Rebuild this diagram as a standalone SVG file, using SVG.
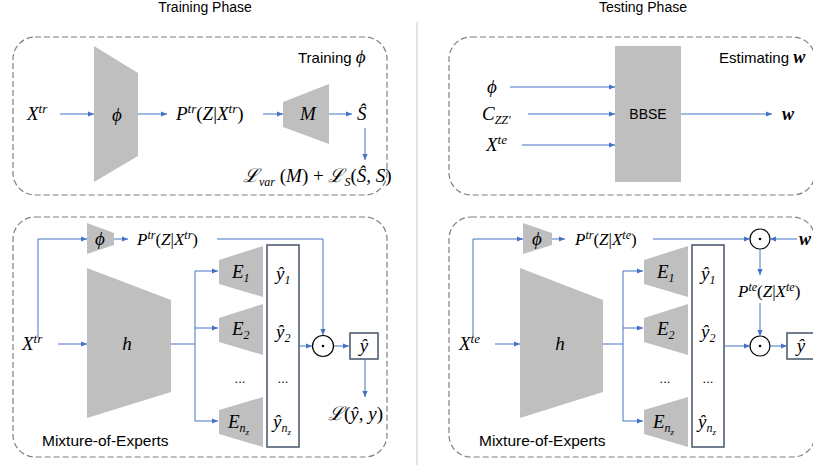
<svg xmlns="http://www.w3.org/2000/svg" width="813" height="465" viewBox="0 0 813 465">
<defs>
<marker id="ah" viewBox="0 0 6 6" markerWidth="6" markerHeight="6" refX="6" refY="3" orient="auto" markerUnits="userSpaceOnUse">
<path d="M0,0.4 L6,3 L0,5.6 z" fill="#4472C4"/>
</marker>
</defs>
<style>
.panel{fill:none;stroke:#808080;stroke-width:1.2;stroke-dasharray:6,3}
.g{fill:#BFBFBF;stroke:none}
.a{fill:none;stroke:#4472C4;stroke-width:1;marker-end:url(#ah)}
.l{fill:none;stroke:#4472C4;stroke-width:1}
.bx{fill:#fff;stroke:#44546A;stroke-width:1.5}
.op{fill:#fff;stroke:#000;stroke-width:1.2}
.t{font-family:"Liberation Sans",Arial,sans-serif;fill:#000}
.m{font-family:"Liberation Serif","DejaVu Serif",serif;font-style:italic;font-size:19px;fill:#000}
.m2{font-family:"Liberation Serif","DejaVu Serif",serif;font-style:italic;font-size:17px;fill:#000}
.u{font-style:normal}
.sp{font-size:13px}
.sb{font-size:12px}
.ss{font-size:9px}
.c{text-anchor:middle}
.bw{font-family:"Liberation Serif","DejaVu Serif",serif;font-style:italic;font-weight:bold;font-size:18px;fill:#000}
</style>

<text class="t c" x="205" y="12" font-size="14">Training Phase</text>
<text class="t c" x="643" y="12" font-size="14">Testing Phase</text>
<line x1="417" y1="22" x2="417" y2="465" stroke="#C8C8C8" stroke-width="1"/>

<!-- Top-left: Training phi -->
<g id="panel-train-phi">
<rect class="panel" x="13" y="37" width="374" height="158" rx="22"/>
<text class="t" x="298" y="63" font-size="15">Training <tspan class="m" font-size="18">ϕ</tspan></text>
</g>
<g id="tl-xtr"><text class="m" x="27" y="120">X<tspan class="sp" dy="-7">tr</tspan></text></g>
<g id="tl-phi"><polygon class="g" points="94,46 138,73 138,156 94,182"/><text class="m c" x="117" y="121">ϕ</text></g>
<g id="tl-p"><text class="m" x="176" y="120">P<tspan class="sp" dy="-7">tr</tspan><tspan class="u" dy="7">(</tspan>Z<tspan class="u">|</tspan>X<tspan class="sp" dy="-7">tr</tspan><tspan class="u" dy="7">)</tspan></text></g>
<g id="tl-m"><polygon class="g" points="283,102 329,84 329,144 283,127"/><text class="m c" x="308" y="120">M</text></g>
<g id="tl-s"><text class="m" x="357" y="120">Ŝ</text></g>
<g id="tl-loss"><text class="m" x="243" y="182">ℒ<tspan class="sb" dy="4">var</tspan><tspan dy="-4"> </tspan><tspan class="u">(</tspan>M<tspan class="u">) + </tspan>ℒ<tspan class="sb" dy="4">S</tspan><tspan class="u" dy="-4">(</tspan>Ŝ<tspan class="u">, </tspan>S<tspan class="u">)</tspan></text></g>

<!-- Top-right: Estimating w -->
<g id="panel-est-w">
<rect class="panel" x="449" y="37" width="366" height="158" rx="22"/>
<text class="t" x="719" y="63" font-size="15">Estimating <tspan class="bw">w</tspan></text>
</g>
<g id="tr-bbse"><rect class="g" x="615" y="46" width="66" height="136"/><text class="t c" x="648" y="119" font-size="14">BBSE</text></g>
<g id="tr-phi"><text class="m" x="487" y="93">ϕ</text></g>
<g id="tr-czz"><text class="m" x="482" y="120">C<tspan class="sb" dy="4">ZZ′</tspan></text></g>
<g id="tr-xte"><text class="m" x="486" y="151">X<tspan class="sp" dy="-7">te</tspan></text></g>
<g id="tr-w"><text class="bw" x="782" y="120">w</text></g>

<!-- Bottom-left: Mixture-of-Experts (training) -->
<g id="panel-moe-train">
<rect class="panel" x="13" y="217" width="374" height="240" rx="22"/>
<text class="t" x="42" y="446" font-size="15.5">Mixture-of-Experts</text>
</g>
<g id="bl-xtr"><text class="m" x="22" y="350">X<tspan class="sp" dy="-7">tr</tspan></text></g>
<g id="bl-phi"><polygon class="g" points="87,223 114,233 114,245 87,254"/><text class="m c" x="100" y="245">ϕ</text></g>
<g id="bl-p"><text class="m2" x="137" y="245">P<tspan class="sb" dy="-6">tr</tspan><tspan class="u" dy="6">(</tspan>Z<tspan class="u">|</tspan>X<tspan class="sb" dy="-6">tr</tspan><tspan class="u" dy="6">)</tspan></text></g>
<g id="bl-h"><polygon class="g" points="87,268 171,300 171,392 87,418"/><text class="m c" x="127" y="350">h</text></g>
<g id="bl-e1"><polygon class="g" points="219,260 263,246 263,297 219,284"/><text class="m" x="232" y="278">E<tspan class="sb" dy="4">1</tspan></text></g>
<g id="bl-e2"><polygon class="g" points="219,318 263,304 263,355 219,342"/><text class="m" x="232" y="335">E<tspan class="sb" dy="4">2</tspan></text></g>
<g id="bl-edots"><text class="t c" x="240" y="383" font-size="13">...</text></g>
<g id="bl-enz"><polygon class="g" points="219,410 263,397 263,447 219,434"/><text class="m" x="228" y="428">E<tspan class="sb" dy="4">n</tspan><tspan class="ss" dy="3">z</tspan></text></g>
<g id="bl-y"><rect class="bx" x="267" y="245" width="32" height="202"/>
<text class="m" x="276" y="280">ŷ<tspan class="sb" dy="4">1</tspan></text>
<text class="m" x="276" y="338">ŷ<tspan class="sb" dy="4">2</tspan></text>
<text class="t c" x="283" y="383" font-size="13">...</text>
<text class="m" x="273" y="428">ŷ<tspan class="sb" dy="4">n</tspan><tspan class="ss" dy="3">z</tspan></text></g>
<g id="bl-op"><circle class="op" cx="323" cy="346" r="10.5"/><circle cx="323" cy="346" r="1.3" fill="#000"/></g>
<g id="bl-yhat"><rect class="bx" x="350" y="333" width="28" height="26"/><text class="m c" x="364" y="352">ŷ</text></g>
<g id="bl-loss"><text class="m" x="328" y="420">ℒ<tspan class="u">(</tspan>ŷ<tspan class="u">, </tspan>y<tspan class="u">)</tspan></text></g>

<!-- Bottom-right: Mixture-of-Experts (testing) -->
<g id="panel-moe-test">
<rect class="panel" x="449" y="217" width="366" height="240" rx="22"/>
<text class="t" x="479" y="446" font-size="15.5">Mixture-of-Experts</text>
</g>
<g id="br-xte"><text class="m" x="459" y="350">X<tspan class="sp" dy="-7">te</tspan></text></g>
<g id="br-phi"><polygon class="g" points="523,223 552,233 552,245 523,254"/><text class="m c" x="537" y="245">ϕ</text></g>
<g id="br-p"><text class="m2" x="575" y="245">P<tspan class="sb" dy="-6">tr</tspan><tspan class="u" dy="6">(</tspan>Z<tspan class="u">|</tspan>X<tspan class="sb" dy="-6">te</tspan><tspan class="u" dy="6">)</tspan></text></g>
<g id="br-h"><polygon class="g" points="520,268 603,300 603,392 520,418"/><text class="m c" x="560" y="350">h</text></g>
<g id="br-e1"><polygon class="g" points="644,260 688,246 688,297 644,284"/><text class="m" x="657" y="278">E<tspan class="sb" dy="4">1</tspan></text></g>
<g id="br-e2"><polygon class="g" points="644,318 688,304 688,355 644,342"/><text class="m" x="657" y="335">E<tspan class="sb" dy="4">2</tspan></text></g>
<g id="br-edots"><text class="t c" x="665" y="383" font-size="13">...</text></g>
<g id="br-enz"><polygon class="g" points="644,410 688,397 688,447 644,434"/><text class="m" x="653" y="428">E<tspan class="sb" dy="4">n</tspan><tspan class="ss" dy="3">z</tspan></text></g>
<g id="br-y"><rect class="bx" x="692" y="245" width="32" height="202"/>
<text class="m" x="701" y="280">ŷ<tspan class="sb" dy="4">1</tspan></text>
<text class="m" x="701" y="338">ŷ<tspan class="sb" dy="4">2</tspan></text>
<text class="t c" x="708" y="383" font-size="13">...</text>
<text class="m" x="698" y="428">ŷ<tspan class="sb" dy="4">n</tspan><tspan class="ss" dy="3">z</tspan></text></g>
<g id="br-op1"><circle class="op" cx="760" cy="239" r="10"/><circle cx="760" cy="239" r="1.3" fill="#000"/></g>
<g id="br-w"><text class="bw" x="799" y="245">w</text></g>
<g id="br-pte"><text class="m2" x="738" y="297" font-size="15">P<tspan class="sb" font-size="11" dy="-6">te</tspan><tspan class="u" dy="6">(</tspan>Z<tspan class="u">|</tspan>X<tspan class="sb" font-size="11" dy="-6">te</tspan><tspan class="u" dy="6">)</tspan></text></g>
<g id="br-op2"><circle class="op" cx="760" cy="346" r="10"/><circle cx="760" cy="346" r="1.3" fill="#000"/></g>
<g id="br-yhat"><rect class="bx" x="787" y="333" width="32" height="26"/><text class="m c" x="801" y="352">ŷ</text></g>

<!-- Connectors -->
<g id="connectors">
<line class="a" x1="60" y1="114" x2="94" y2="114"/>
<line class="a" x1="138" y1="114" x2="167" y2="114"/>
<line class="a" x1="263" y1="114" x2="283" y2="114"/>
<line class="a" x1="329" y1="114" x2="352" y2="114"/>
<line class="a" x1="365" y1="128" x2="365" y2="160"/>

<line class="a" x1="510" y1="87" x2="615" y2="87"/>
<line class="a" x1="528" y1="114" x2="615" y2="114"/>
<line class="a" x1="522" y1="145" x2="615" y2="145"/>
<line class="a" x1="681" y1="114" x2="772" y2="114"/>

<polyline class="a" points="38,337 38,239 87,239"/>
<line class="a" x1="58" y1="344" x2="87" y2="344"/>
<line class="a" x1="114" y1="239" x2="128" y2="239"/>
<polyline class="a" points="217,239 323,239 323,335"/>
<line class="l" x1="171" y1="344" x2="195" y2="344"/>
<line class="l" x1="195" y1="271" x2="195" y2="421"/>
<line class="a" x1="195" y1="271" x2="218" y2="271"/>
<line class="a" x1="195" y1="328" x2="218" y2="328"/>
<line class="a" x1="195" y1="421" x2="218" y2="421"/>
<line class="a" x1="299" y1="346" x2="312" y2="346"/>
<line class="a" x1="334" y1="346" x2="349" y2="346"/>
<line class="a" x1="365" y1="359" x2="365" y2="397"/>

<polyline class="a" points="473,338 473,239 523,239"/>
<line class="a" x1="495" y1="344" x2="520" y2="344"/>
<line class="a" x1="552" y1="239" x2="565" y2="239"/>
<line class="a" x1="653" y1="239" x2="750" y2="239"/>
<line class="a" x1="797" y1="239" x2="770" y2="239"/>
<line class="a" x1="760" y1="249" x2="760" y2="275"/>
<line class="a" x1="760" y1="303" x2="760" y2="336"/>
<line class="l" x1="603" y1="344" x2="623" y2="344"/>
<line class="l" x1="623" y1="271" x2="623" y2="421"/>
<line class="a" x1="623" y1="271" x2="643" y2="271"/>
<line class="a" x1="623" y1="328" x2="643" y2="328"/>
<line class="a" x1="623" y1="421" x2="643" y2="421"/>
<line class="a" x1="724" y1="346" x2="750" y2="346"/>
<line class="a" x1="770" y1="346" x2="787" y2="346"/>
</g>
</svg>
